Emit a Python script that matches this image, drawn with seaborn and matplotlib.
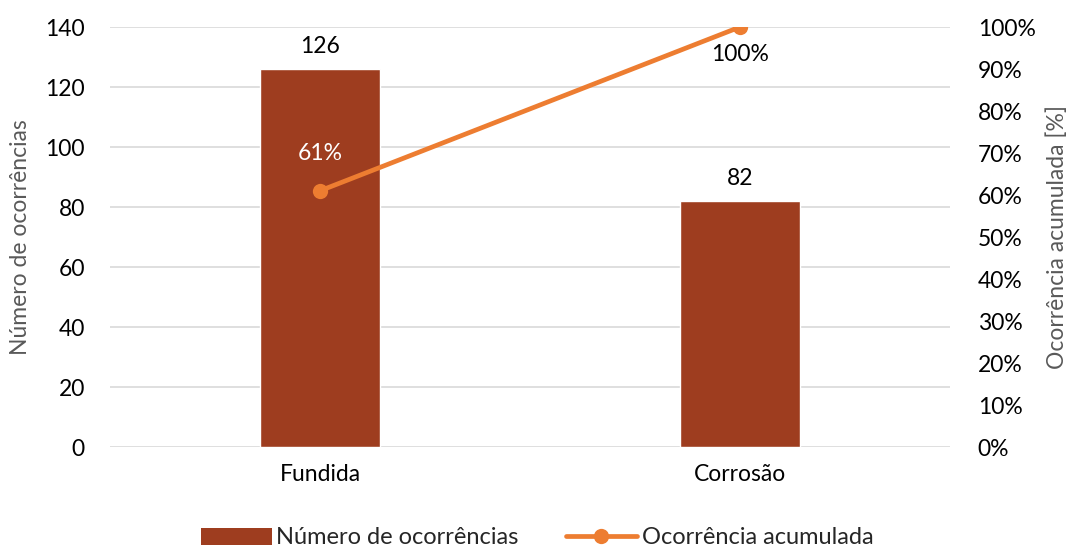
import matplotlib
matplotlib.use("Agg")
import matplotlib.pyplot as plt
import seaborn as sns
import pandas as pd
from matplotlib.ticker import PercentFormatter
from matplotlib.lines import Line2D
from matplotlib.patches import Patch

categorias = ["Fundida", "Corrosão"]
ocorrencias = [126, 82]
acumulada = [61, 100]
rotulos_acumulada = ["61%", "100%"]

df = pd.DataFrame({"Categoria": categorias, "Ocorrencias": ocorrencias, "Acumulada": acumulada})

sns.set_theme(style="white")
plt.rcParams["font.family"] = ["Lato", "DejaVu Sans"]

bar_color = "#9E3D1F"
line_color = "#ED7D31"
grey = "#595959"
fs = 16.5

fig = plt.figure(figsize=(10.74, 5.5), dpi=100)
ax = fig.add_axes([110 / 1074, 1 - 447 / 550, 840 / 1074, 420 / 550])

sns.barplot(data=df, x="Categoria", y="Ocorrencias", color=bar_color, width=0.286,
            saturation=1, ax=ax, zorder=2)
ax.set_ylim(0, 140)
ax.set_xlim(-0.5, 1.5)
ax.set_yticks(range(0, 141, 20))
ax.yaxis.grid(True, color="#D9D9D9", linewidth=1.2, zorder=0)
ax.set_axisbelow(True)
for s in ax.spines.values():
    s.set_visible(False)
ax.tick_params(axis="both", length=0, labelsize=fs, colors="#000000", pad=18)
ax.tick_params(axis="x", pad=12)
ax.set_xlabel("")
ax.set_ylabel("Número de ocorrências", fontsize=16.5, color=grey, labelpad=10)

for i, v in enumerate(ocorrencias):
    ax.text(i, v + 4, str(v), ha="center", va="bottom", fontsize=fs, color="#000000")

ax2 = ax.twinx()
sns.lineplot(x=list(range(len(categorias))), y=acumulada, ax=ax2, color=line_color,
             linewidth=3.4, marker="o", markersize=11, markeredgewidth=0, zorder=3)
ax2.set_ylim(0, 100)
ax2.set_yticks(range(0, 101, 10))
ax2.yaxis.set_major_formatter(PercentFormatter(decimals=0))
for s in ax2.spines.values():
    s.set_visible(False)
ax2.tick_params(axis="y", length=0, labelsize=fs, colors="#000000", pad=20)
ax2.set_ylabel("Ocorrência acumulada [%]", fontsize=16.5, color=grey, labelpad=8)

ax2.text(0, acumulada[0] + 6.5, rotulos_acumulada[0], ha="center", va="bottom",
         fontsize=fs, color="white")
ax2.text(1, acumulada[1] - 4, rotulos_acumulada[1], ha="center", va="top",
         fontsize=fs, color="#000000")

handles = [
    Patch(facecolor=bar_color, edgecolor="none"),
    Line2D([0], [0], color=line_color, linewidth=3.4, marker="o", markersize=11,
           markeredgewidth=0),
]
fig.legend(handles, ["Número de ocorrências", "Ocorrência acumulada"], loc="center",
           bbox_to_anchor=(0.5, 1 - 538 / 550), ncol=2, frameon=False, fontsize=17,
           handlelength=3.0, handletextpad=0.2, columnspacing=2.0)

fig.savefig("out.png", dpi=100)
